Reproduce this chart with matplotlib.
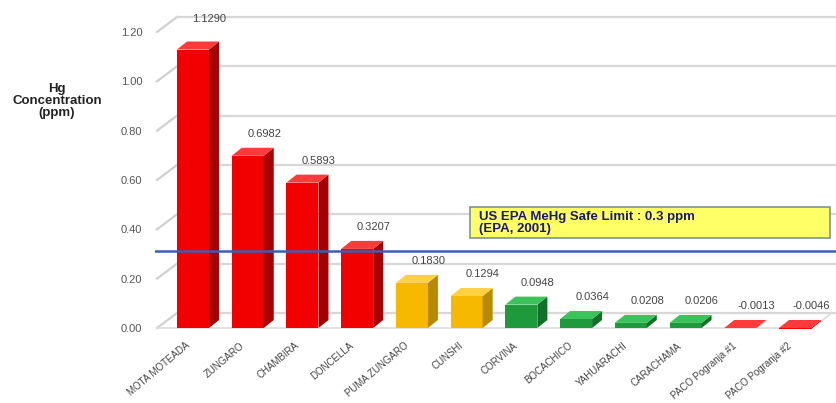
import numpy as np
import matplotlib
matplotlib.use("Agg")
import matplotlib.pyplot as plt
from matplotlib.patches import Rectangle

plt.rcParams['font.family'] = ['Liberation Sans', 'DejaVu Sans']

fish = ["MOTA MOTEADA", "ZUNGARO", "CHAMBIRA", "DONCELLA", "PUMA ZUNGARO",
        "CUNSHI", "CORVINA", "BOCACHICO", "YAHUARACHI", "CARACHAMA",
        "PACO Pogranja #1", "PACO Pogranja #2"]
hg = [1.1290, 0.6982, 0.5893, 0.3207, 0.1830, 0.1294, 0.0948, 0.0364,
      0.0208, 0.0206, -0.0013, -0.0046]
level = ["high", "high", "high", "high", "mid", "mid", "low", "low",
         "low", "low", "high", "high"]
yticks = [0.0, 0.2, 0.4, 0.6, 0.8, 1.0, 1.2]
safe_limit = 0.3

# front, side, top colours
palette = {
    "high": ("#f20000", "#a80000", "#ff3a3a"),
    "mid": ("#f7b800", "#b88a00", "#ffd040"),
    "low": ("#1e9a3c", "#137028", "#3cc25a"),
}

W, H = 837, 403
fig = plt.figure(figsize=(W / 100, H / 100), dpi=100)
# axes in pixel units -> figure fraction
left, right, bottom, top = 155, 837, 335, 0
ax = fig.add_axes([left / W, 1 - bottom / H, (right - left) / W, (bottom - top) / H])

px_x = 54.7          # pixels per category
px_y = 246.7         # pixels per 1.0 ppm
x0 = -(193 - left) / px_x
x1 = 11 + (right - 795) / px_x
y0 = -(bottom - 328) / px_y
y1 = 1.2 + (32 - top) / px_y
ax.set_xlim(x0, x1)
ax.set_ylim(y0, y1)
for s in ax.spines.values():
    s.set_visible(False)

# wall depth offsets
wdx = 20 / px_x
wdy = 15 / px_y
wall_x = -(193 - 157) / px_x
for v in yticks:
    ax.plot([wall_x, wall_x + wdx], [v, v + wdy], color="#d0d0d0", lw=1.6, zorder=1)
    ax.plot([wall_x + wdx, x1], [v + wdy, v + wdy], color="#d8d8d8", lw=1.6, zorder=1)
# floor front edge
ax.plot([wall_x, 11 + 17 / px_x], [0, 0], color="#dcdcdc", lw=1.2, zorder=1)
ax.plot([11 + 17 / px_x, 11 + 17 / px_x + wdx], [0, wdy], color="#dcdcdc", lw=1.2, zorder=1)

# bars with pseudo-3d faces
bw = 32 / px_x
bdx = 10 / px_x
bdy = 8 / px_y
xs = np.arange(len(fish))
fronts = [palette[l][0] for l in level]
ax.bar(xs, hg, width=bw, color=fronts, zorder=3)
for x, v, l in zip(xs, hg, level):
    f, sd, tp = palette[l]
    xl, xr = x - bw / 2, x + bw / 2
    ax.fill([xr, xr + bdx, xr + bdx, xr], [min(v, 0), min(v, 0) + bdy, max(v, 0) + bdy, max(v, 0)],
            color=sd, zorder=3, lw=0)
    ax.fill([xl, xl + bdx, xr + bdx, xr], [max(v, 0), max(v, 0) + bdy, max(v, 0) + bdy, max(v, 0)],
            color=tp, zorder=3, lw=0)
    lift = 26 if v > 1 else 17
    ax.text(x + 0.3, max(v, 0) + lift / px_y, "%.4f" % v, ha="center", va="bottom",
            fontsize=8, color="#444444", zorder=5)

# safe limit line and note
ax.axhline(safe_limit + 3 / px_y, color="#3a5fb0", lw=1.8, zorder=4)
fig.patches.append(Rectangle((470 / W, 1 - 238 / H), 360 / W, 31 / H,
                             transform=fig.transFigure, fc="#ffff66", ec="#8090a0",
                             lw=1.2, zorder=6))
fig.text(479 / W, 1 - 223 / H, "US EPA MeHg Safe Limit : 0.3 ppm\n(EPA, 2001)",
         fontsize=9.5, fontweight="bold", color="#1a1a6e", va="center", ha="left",
         linespacing=1.05, zorder=7)

ax.set_yticks(yticks)
ax.set_yticklabels(["%.2f" % v for v in yticks], fontsize=8, color="#555555")
ax.tick_params(axis="y", length=0, pad=9)
ax.set_xticks(xs - 0.15)
ax.set_xticklabels(fish, rotation=40, ha="right", rotation_mode="anchor",
                   fontsize=7, color="#444444")
ax.tick_params(axis="x", length=0, pad=4)

fig.text(57 / W, 1 - 101 / H, "Hg\nConcentration\n(ppm)", ha="center", va="center",
         fontsize=9.5, fontweight="bold", color="#222222", linespacing=1.0)

fig.savefig("out.png", dpi=100)
